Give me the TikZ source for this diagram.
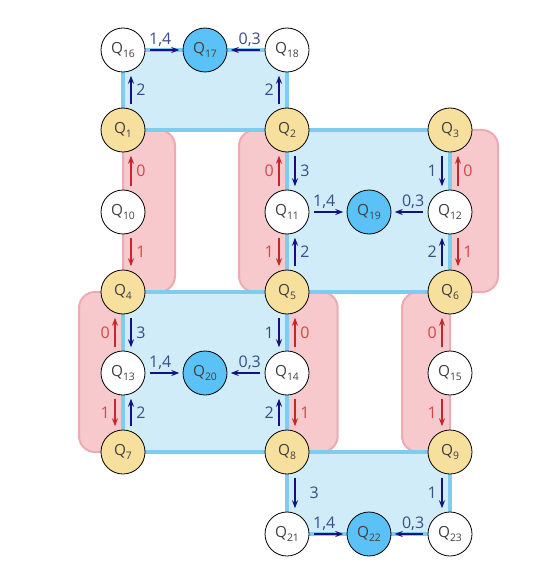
\documentclass[tikz,border=0pt]{standalone}
\usepackage{fontspec}
\setmainfont{Open Sans}
\usetikzlibrary{arrows.meta,backgrounds}
\definecolor{goldfill}{HTML}{F7DF9E}
\definecolor{sinkfill}{HTML}{5BC2F7}
\definecolor{bluefill}{HTML}{D0ECF8}
\definecolor{blueedge}{HTML}{80CBF0}
\definecolor{redfill}{HTML}{F7C9CD}
\definecolor{rededge}{HTML}{EDA9B4}
\definecolor{navyarrow}{HTML}{13137F}
\definecolor{navytext}{HTML}{3B4C8A}
\definecolor{redarrow}{HTML}{C0282A}
\definecolor{redtext}{HTML}{D04848}
\definecolor{qtext}{HTML}{404040}
\tikzstyle{state}=[circle, draw=black, line width=0.6pt, minimum size=33pt, inner sep=0pt, text=qtext, font=\fontsize{11.5}{13}\selectfont]
\tikzstyle{goldq}=[state, fill=goldfill]
\tikzstyle{whiteq}=[state, fill=white]
\tikzstyle{sinkq}=[state, fill=sinkfill]
\tikzstyle{bluereg}=[fill=bluefill, draw=blueedge, line width=2.4pt]
\tikzstyle{redreg}=[fill=redfill, draw=rededge, line width=1.5pt, rounded corners=12pt]
\tikzstyle{barr}=[draw=navyarrow, line width=1pt, -{Stealth[length=6pt,width=4.5pt]}, shorten >=2.5pt, shorten <=2.5pt]
\tikzstyle{rarr}=[barr, draw=redarrow]
\tikzstyle{harr}=[barr, shorten <=3.5pt]
\tikzstyle{blab}=[text=navytext, font=\fontsize{12}{14}\selectfont, inner sep=3.5pt]
\tikzstyle{rlab}=[blab, text=redtext]
\newcommand{\qn}[1]{Q\raisebox{-0.4ex}{\fontsize{7.8}{8}\selectfont #1}}
\newcommand{\drawregions}[0]
{
  \draw[redreg] (q1.center) rectangle ([xshift=39pt]q4.center);
  \draw[redreg] ([xshift=-36pt]q2.center) rectangle ([xshift=36pt]q6.center);
  \draw[redreg] ([xshift=-33pt]q4.center) rectangle ([xshift=38pt]q8.center);
  \draw[redreg] ([xshift=-36pt]q6.center) rectangle (q9.center);
  \draw[bluereg] (q16.center) rectangle (q2.center);
  \draw[bluereg] (q2.center) rectangle (q6.center);
  \draw[bluereg] (q4.center) rectangle (q8.center);
  \draw[bluereg] (q8.center) rectangle (q23.center);
}
\begin{document}
\begin{tikzpicture}[x=0.75pt, y=-0.75pt]
	\useasboundingbox (0,0) rectangle (558,574);

	\node[whiteq](q16) at (123,50){\qn{16}};
	\node[sinkq](q17) at (205,50){\qn{17}};
	\node[whiteq](q18) at (287,50){\qn{18}};
	\node[goldq](q1) at (123,130){\qn{1}};
	\node[goldq](q2) at (287,130){\qn{2}};
	\node[goldq](q3) at (450,130){\qn{3}};
	\node[whiteq](q10) at (123,212){\qn{10}};
	\node[whiteq](q11) at (287,212){\qn{11}};
	\node[sinkq](q19) at (369,212){\qn{19}};
	\node[whiteq](q12) at (450,212){\qn{12}};
	\node[goldq](q4) at (123,292){\qn{4}};
	\node[goldq](q5) at (287,292){\qn{5}};
	\node[goldq](q6) at (450,292){\qn{6}};
	\node[whiteq](q13) at (123,373){\qn{13}};
	\node[sinkq](q20) at (205,373){\qn{20}};
	\node[whiteq](q14) at (287,373){\qn{14}};
	\node[whiteq](q15) at (450,373){\qn{15}};
	\node[goldq](q7) at (123,452){\qn{7}};
	\node[goldq](q8) at (287,452){\qn{8}};
	\node[goldq](q9) at (450,452){\qn{9}};
	\node[whiteq](q21) at (287,534){\qn{21}};
	\node[sinkq](q22) at (369,534){\qn{22}};
	\node[whiteq](q23) at (450,534){\qn{23}};

	\begin{scope}[on background layer]
		\drawregions{}
	\end{scope}

	% top row
	\draw[barr] ([xshift=6pt]q1.north) -- ([xshift=6pt]q16.south) node[blab,midway,right]{2};
	\draw[barr] ([xshift=-6pt]q2.north) -- ([xshift=-6pt]q18.south) node[blab,midway,left]{2};
	\draw[harr] (q16) -- (q17) node[blab,pos=0.4,above,inner sep=2pt]{1,4};
	\draw[harr] (q18) -- (q17) node[blab,pos=0.4,above,inner sep=2pt]{0,3};

	\draw[rarr] ([xshift=6pt]q10.north) -- ([xshift=6pt]q1.south) node[rlab,midway,right]{0};
	\draw[rarr] ([xshift=6pt]q10.south) -- ([xshift=6pt]q4.north) node[rlab,midway,right]{1};

	\draw[rarr] ([xshift=-6pt]q11.north) -- ([xshift=-6pt]q2.south) node[rlab,midway,left]{0};
	\draw[barr] ([xshift=6pt]q2.south) -- ([xshift=6pt]q11.north) node[blab,midway,right]{3};
	\draw[rarr] ([xshift=-6pt]q11.south) -- ([xshift=-6pt]q5.north) node[rlab,midway,left]{1};
	\draw[barr] ([xshift=6pt]q5.north) -- ([xshift=6pt]q11.south) node[blab,midway,right]{2};
	\draw[harr] (q11) -- (q19) node[blab,pos=0.4,above,inner sep=2pt]{1,4};
	\draw[harr] (q12) -- (q19) node[blab,pos=0.4,above,inner sep=2pt]{0,3};

	\draw[barr] ([xshift=-6pt]q3.south) -- ([xshift=-6pt]q12.north) node[blab,midway,left]{1};
	\draw[rarr] ([xshift=6pt]q12.north) -- ([xshift=6pt]q3.south) node[rlab,midway,right]{0};
	\draw[barr] ([xshift=-6pt]q6.north) -- ([xshift=-6pt]q12.south) node[blab,midway,left]{2};
	\draw[rarr] ([xshift=6pt]q12.south) -- ([xshift=6pt]q6.north) node[rlab,midway,right]{1};

	\draw[rarr] ([xshift=-6pt]q13.north) -- ([xshift=-6pt]q4.south) node[rlab,midway,left]{0};
	\draw[barr] ([xshift=6pt]q4.south) -- ([xshift=6pt]q13.north) node[blab,midway,right]{3};
	\draw[rarr] ([xshift=-6pt]q13.south) -- ([xshift=-6pt]q7.north) node[rlab,midway,left]{1};
	\draw[barr] ([xshift=6pt]q7.north) -- ([xshift=6pt]q13.south) node[blab,midway,right]{2};
	\draw[harr] (q13) -- (q20) node[blab,pos=0.4,above,inner sep=2pt]{1,4};
	\draw[harr] (q14) -- (q20) node[blab,pos=0.4,above,inner sep=2pt]{0,3};

	\draw[barr] ([xshift=-6pt]q5.south) -- ([xshift=-6pt]q14.north) node[blab,midway,left]{1};
	\draw[rarr] ([xshift=6pt]q14.north) -- ([xshift=6pt]q5.south) node[rlab,midway,right]{0};
	\draw[barr] ([xshift=-6pt]q8.north) -- ([xshift=-6pt]q14.south) node[blab,midway,left]{2};
	\draw[rarr] ([xshift=6pt]q14.south) -- ([xshift=6pt]q8.north) node[rlab,midway,right]{1};

	\draw[rarr] ([xshift=-6pt]q15.north) -- ([xshift=-6pt]q6.south) node[rlab,midway,left]{0};
	\draw[rarr] ([xshift=-6pt]q15.south) -- ([xshift=-6pt]q9.north) node[rlab,midway,left]{1};

	% bottom row
	\draw[barr] ([xshift=6pt]q8.south) -- ([xshift=6pt]q21.north) node[blab,midway,right=7pt]{3};
	\draw[barr] ([xshift=-6pt]q9.south) -- ([xshift=-6pt]q23.north) node[blab,midway,left]{1};
	\draw[harr] (q21) -- (q22) node[blab,pos=0.4,above,inner sep=2pt]{1,4};
	\draw[harr] (q23) -- (q22) node[blab,pos=0.4,above,inner sep=2pt]{0,3};

\end{tikzpicture}
\end{document}
